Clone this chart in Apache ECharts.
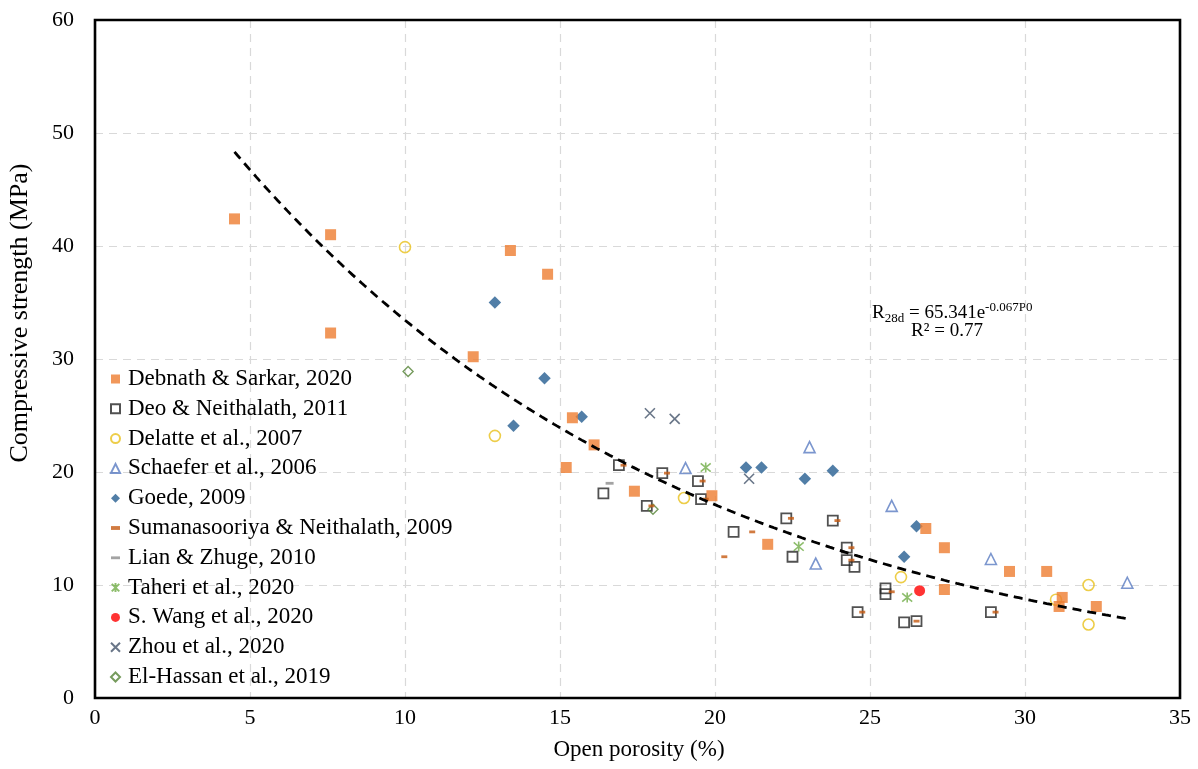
<!DOCTYPE html>
<html>
<head>
<meta charset="utf-8">
<script src="https://cdn.jsdelivr.net/npm/echarts@6/dist/echarts.min.js"></script>
<style>
  html, body { margin: 0; padding: 0; background: #fff; }
  #chart { width: 1198px; height: 769px; }
</style>
</head>
<body>
<div id="chart"></div>
<script>
// Open porosity (%) vs 28-day compressive strength (MPa), pervious concrete studies
const debnath = [[4.5,42.4],[7.6,41.0],[7.6,32.3],[12.2,30.2],[13.4,39.6],[14.6,37.5],[15.4,24.8],[15.2,20.4],[16.1,22.4],[17.4,18.3],[19.9,17.9],[21.7,13.6],[26.8,15.0],[27.4,13.3],[27.4,9.6],[29.5,11.2],[30.7,11.2],[31.2,8.9],[31.1,8.1],[32.3,8.1]];
const deo = [[16.9,20.6],[18.3,19.9],[16.4,18.1],[17.8,17.0],[19.45,19.2],[19.55,17.6],[20.6,14.7],[22.3,15.9],[23.8,15.7],[22.5,12.5],[24.25,13.3],[24.25,12.2],[24.5,11.6],[25.5,9.7],[25.5,9.2],[24.6,7.6],[26.1,6.7],[26.5,6.8],[28.9,7.6]];
const delatte = [[10.0,39.9],[12.9,23.2],[19.0,17.7],[26.0,10.7],[31.0,8.7],[32.05,10.0],[32.05,6.5]];
const schaefer = [[19.05,20.35],[23.05,22.2],[23.25,11.9],[25.7,17.0],[28.9,12.3],[33.3,10.2]];
const goede = [[12.9,35.0],[14.5,28.3],[13.5,24.1],[15.7,24.9],[21.0,20.4],[21.5,20.4],[22.9,19.4],[23.8,20.1],[26.5,15.2],[26.1,12.5]];
const sumanasooriya = [[17.05,20.6],[18.45,19.9],[17.95,17.0],[19.6,19.2],[19.7,17.6],[22.45,15.9],[23.95,15.7],[24.4,13.3],[24.4,12.2],[25.7,9.4],[24.75,7.6],[26.5,6.8],[29.05,7.6],[21.2,14.7],[20.3,12.5]];
const lian = [[16.6,19.0]];
const taheri = [[19.7,20.4],[22.7,13.4],[26.2,8.9]];
const wang = [[26.6,9.5]];
const zhou = [[17.9,25.2],[18.7,24.7],[21.1,19.4]];
const elHassan = [[10.1,28.9],[18.0,16.7]];

// Exponential fit R = A * exp(-B * P0)
const fitA = 65.341;
const fitB = 0.067;
const fitR2 = 0.77;
const fitRange = [4.5, 33.3];

const xTicks = [0, 5, 10, 15, 20, 25, 30, 35];
const yTicks = [0, 10, 20, 30, 40, 50, 60];

const fitLine = [];
for (let p = fitRange[0]; p <= fitRange[1] + 1e-9; p += 0.1) {
  fitLine.push([p, fitA * Math.exp(-fitB * p)]);
}

const FONT = '"Liberation Serif", "Times New Roman", serif';
const NONE = 'rgba(255,255,255,0)';
const X_PATH = 'path://M0,0L10,10M10,0L0,10';
const STAR_PATH = 'path://M0,0L10,10M10,0L0,10M5,-1L5,11';

const GRID = { left: 95, right: 18, top: 20, bottom: 71 };
const W = 1198, H = 769;

function scatter(name, data, symbol, size, itemStyle, z) {
  return { name, type: 'scatter', data, symbol, symbolSize: size, itemStyle, z: z || 3 };
}

const series = [
  scatter('Goede, 2009', goede, 'diamond', 12.5, { color: '#255E91' }),
  scatter('Debnath & Sarkar, 2020', debnath, 'rect', 11, { color: '#ED7D31' }, 4),
  scatter('Deo & Neithalath, 2011', deo, 'rect', 10, { color: NONE, borderColor: '#262626', borderWidth: 1.8 }),
  scatter('Delatte et al., 2007', delatte, 'circle', 11, { color: NONE, borderColor: '#E8C01C', borderWidth: 1.6 }),
  scatter('Schaefer et al., 2006', schaefer, 'triangle', 11, { color: NONE, borderColor: '#5A7CC2', borderWidth: 1.6 }),
  scatter('Sumanasooriya & Neithalath, 2009', sumanasooriya, 'rect', [6, 2.8], { color: '#C55A11' }, 5),
  scatter('Lian & Zhuge, 2010', lian, 'rect', [8, 2.8], { color: '#8C8C8C' }),
  scatter('Taheri et al., 2020', taheri, STAR_PATH, 10, { color: NONE, borderColor: '#70AD47', borderWidth: 1.6 }),
  scatter('S. Wang et al., 2020', wang, 'circle', 11, { color: '#FF0000' }),
  scatter('Zhou et al., 2020', zhou, X_PATH, 10, { color: NONE, borderColor: '#44546A', borderWidth: 1.6 }),
  scatter('El-Hassan et al., 2019', elHassan, 'diamond', 10, { color: NONE, borderColor: '#548235', borderWidth: 1.4 }),
  {
    name: 'fit', type: 'line', data: fitLine, showSymbol: false, symbol: 'none', smooth: false,
    lineStyle: { color: '#000', width: 2.8, type: [9, 6] }, z: 6, silent: true
  }
];

const legendOrder = [
  { name: 'Debnath & Sarkar, 2020' },
  { name: 'Deo & Neithalath, 2011' },
  { name: 'Delatte et al., 2007' },
  { name: 'Schaefer et al., 2006' },
  { name: 'Goede, 2009' },
  { name: 'Sumanasooriya & Neithalath, 2009', icon: 'path://M0,0L7,0L7,3L0,3Z' },
  { name: 'Lian & Zhuge, 2010', icon: 'path://M0,0L8,0L8,2.5L0,2.5Z' },
  { name: 'Taheri et al., 2020' },
  { name: 'S. Wang et al., 2020' },
  { name: 'Zhou et al., 2020' },
  { name: 'El-Hassan et al., 2019' }
];

const chart = echarts.init(document.getElementById('chart'), null, { renderer: 'canvas' });
chart.setOption({
  animation: false,
  backgroundColor: '#fff',
  textStyle: { fontFamily: FONT },
  grid: Object.assign({ show: false, outerBoundsMode: 'none' }, GRID),
  xAxis: {
    type: 'value', min: xTicks[0], max: xTicks[xTicks.length - 1], interval: 5,
    axisLine: { show: false }, axisTick: { show: false },
    axisLabel: { color: '#000', fontSize: 22, fontFamily: FONT, margin: 9 },
    splitLine: { show: true, lineStyle: { color: '#D9D9D9', width: 1.2, type: [8, 6] } }
  },
  yAxis: {
    type: 'value', min: yTicks[0], max: yTicks[yTicks.length - 1], interval: 10,
    axisLine: { show: false }, axisTick: { show: false },
    axisLabel: { color: '#000', fontSize: 22, fontFamily: FONT, margin: 21 },
    splitLine: { show: true, lineStyle: { color: '#D9D9D9', width: 1.2, type: [8, 6] } }
  },
  legend: {
    data: legendOrder,
    orient: 'vertical', left: 105, top: 362.5,
    itemWidth: 9, itemHeight: 9, itemGap: 6.8,
    textStyle: { fontSize: 23, fontFamily: FONT, color: '#000', lineHeight: 23, padding: [0, 0, 0, 3] },
    selectedMode: false
  },
  graphic: [
    {
      // plot frame, drawn above the grid lines
      type: 'rect', z: 100, silent: true,
      shape: { x: GRID.left, y: GRID.top, width: W - GRID.left - GRID.right, height: H - GRID.top - GRID.bottom },
      style: { fill: null, stroke: '#000', lineWidth: 2.6 }
    },
    {
      type: 'text', x: 20, y: 313, rotation: Math.PI / 2,
      style: { text: 'Compressive strength (MPa)', font: '26px ' + FONT, fill: '#000', align: 'center', verticalAlign: 'middle' }
    },
    {
      type: 'text', x: 639, y: 750,
      style: { text: 'Open porosity (%)', font: '23px ' + FONT, fill: '#000', align: 'center', verticalAlign: 'middle' }
    },
    {
      type: 'text', x: 872, y: 313,
      style: {
        text: '{r|R}{sub|28d}{r| = ' + fitA.toFixed(3) + 'e}{sup|-' + fitB.toFixed(3) + 'P0}',
        align: 'left', verticalAlign: 'middle',
        rich: {
          r: { fontSize: 19, fontFamily: FONT, fill: '#000', lineHeight: 24, verticalAlign: 'middle' },
          sub: { fontSize: 13, fontFamily: FONT, fill: '#000', lineHeight: 14, verticalAlign: 'bottom' },
          sup: { fontSize: 13, fontFamily: FONT, fill: '#000', lineHeight: 10, verticalAlign: 'top' }
        }
      }
    },
    {
      type: 'text', x: 947, y: 331,
      style: { text: 'R² = ' + fitR2.toFixed(2), font: '19px ' + FONT, fill: '#000', align: 'center', verticalAlign: 'middle' }
    }
  ],
  series
});
</script>
</body>
</html>
